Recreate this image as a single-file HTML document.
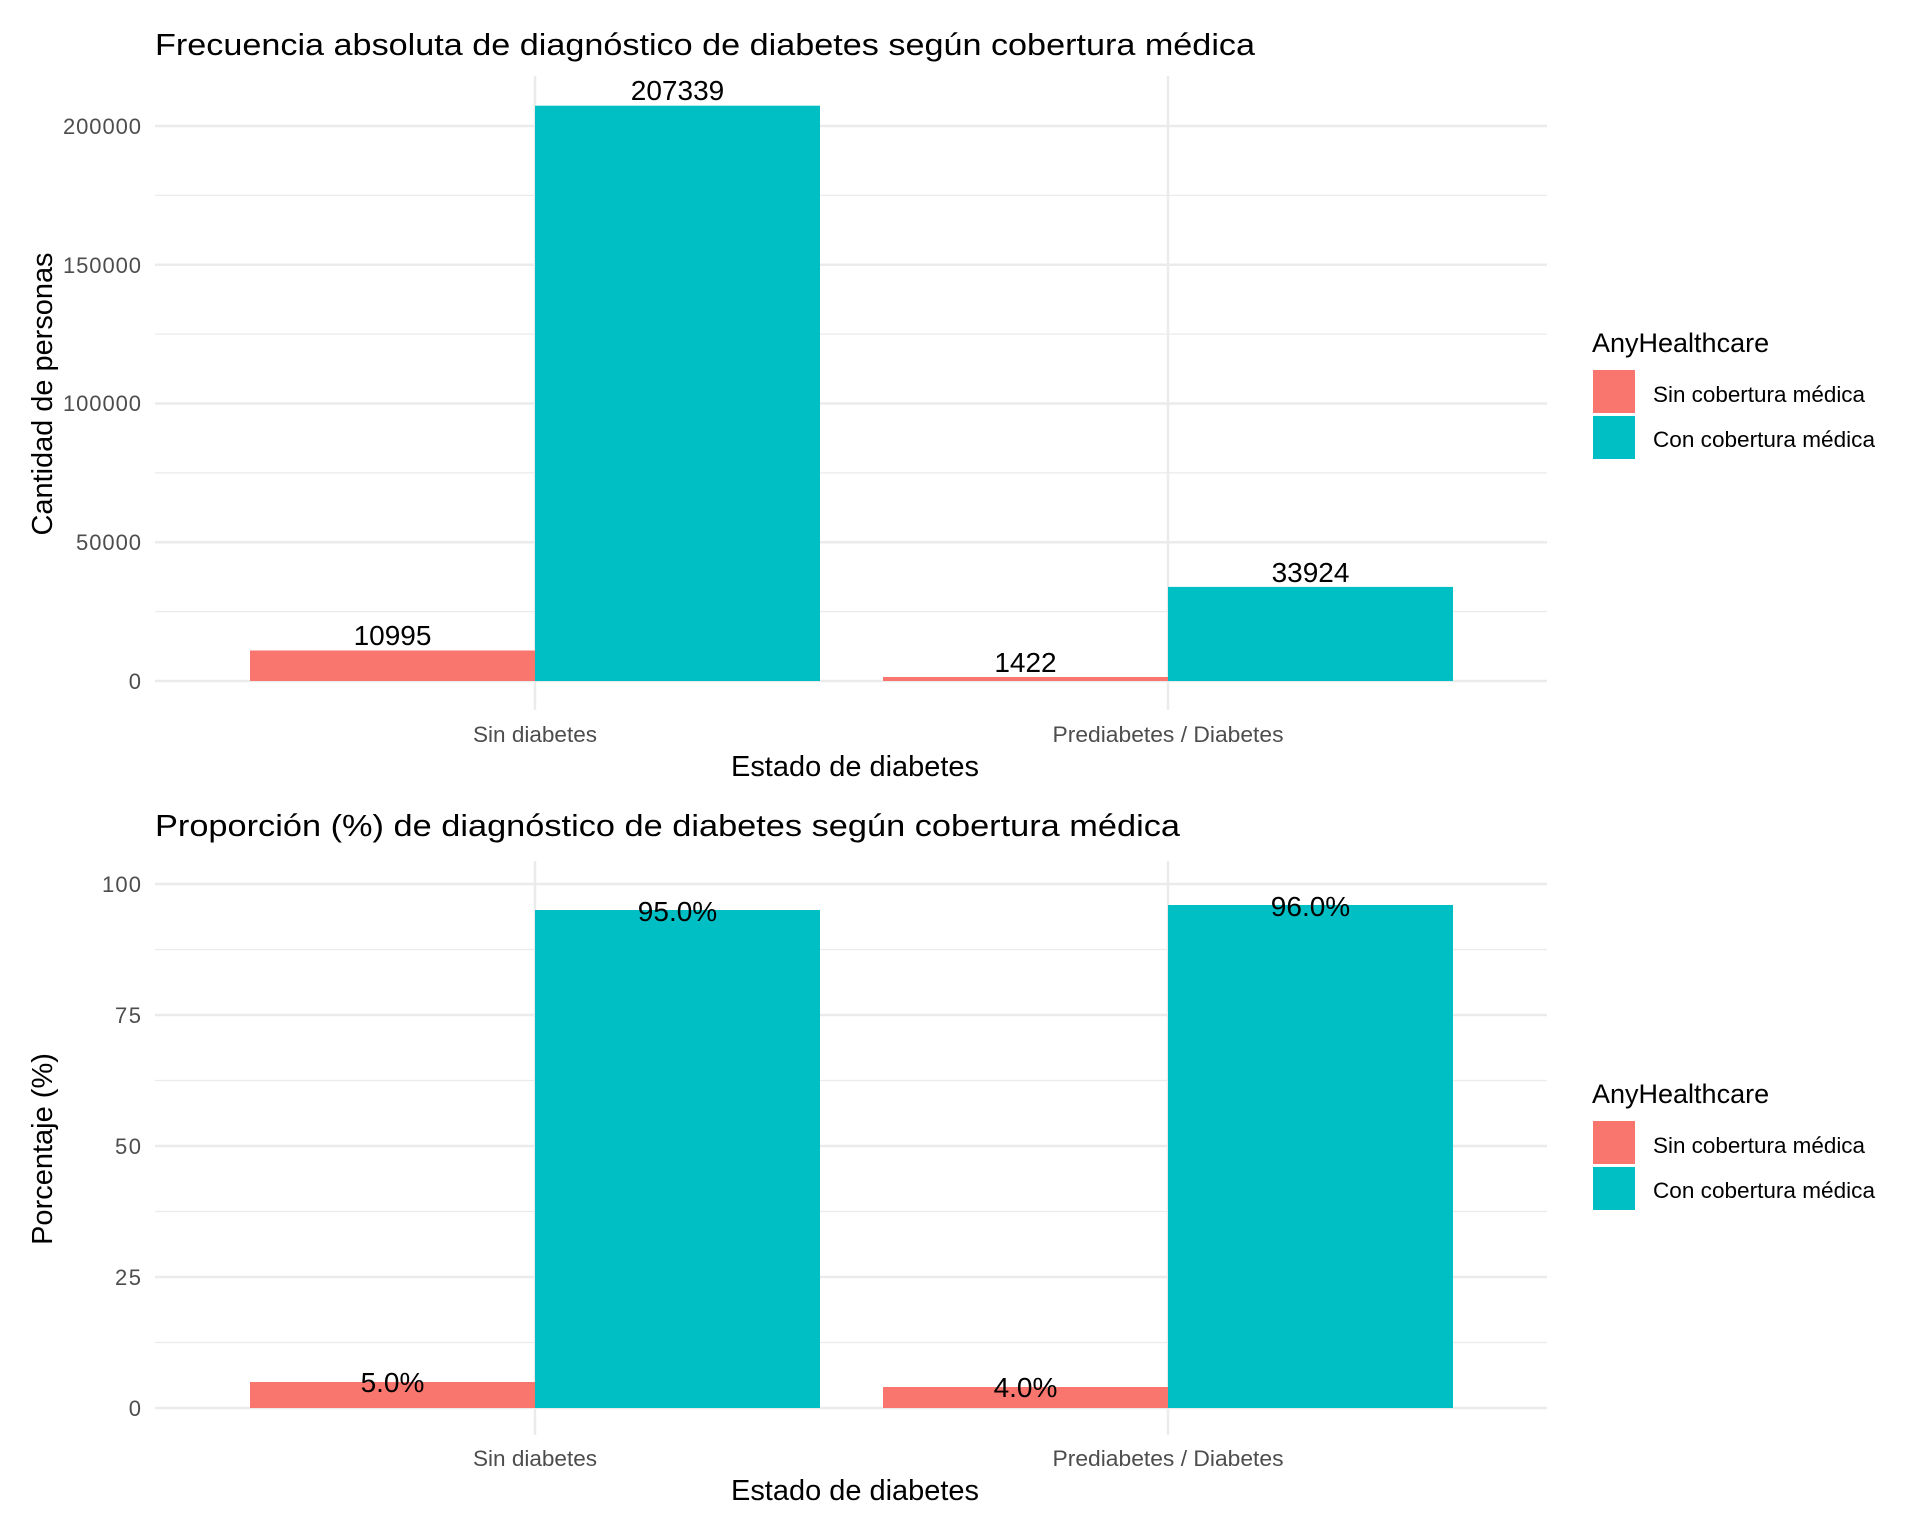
<!DOCTYPE html>
<html><head><meta charset="utf-8"><style>html,body{margin:0;padding:0;background:#fff}svg{display:block}</style></head>
<body>
<svg width="1920" height="1536" viewBox="0 0 1920 1536" font-family="Liberation Sans, Arial, sans-serif">
<rect width="1920" height="1536" fill="#fff"/>
<!-- TOP PANEL -->
<g stroke="#ebebeb">
<g stroke-width="1.3">
<line x1="155" x2="1547" y1="611.6" y2="611.6"/><line x1="155" x2="1547" y1="472.9" y2="472.9"/><line x1="155" x2="1547" y1="334.1" y2="334.1"/><line x1="155" x2="1547" y1="195.4" y2="195.4"/>
</g>
<g stroke-width="2.5">
<line x1="155" x2="1547" y1="681" y2="681"/><line x1="155" x2="1547" y1="542.3" y2="542.3"/><line x1="155" x2="1547" y1="403.5" y2="403.5"/><line x1="155" x2="1547" y1="264.8" y2="264.8"/><line x1="155" x2="1547" y1="126" y2="126"/>
<line x1="535" x2="535" y1="76" y2="710"/><line x1="1168" x2="1168" y1="76" y2="710"/>
</g></g>
<rect x="250" y="650.5" width="285" height="30.5" fill="#F8766D"/>
<rect x="535" y="105.7" width="285" height="575.3" fill="#00BFC4"/>
<rect x="883" y="677" width="285" height="4" fill="#F8766D"/>
<rect x="1168" y="586.9" width="285" height="94.1" fill="#00BFC4"/>
<g font-size="28" text-anchor="middle" fill="#000">
<text x="392.5" y="645">10995</text><text x="677.5" y="100">207339</text><text x="1025.5" y="672">1422</text><text x="1310.5" y="582">33924</text>
</g>
<g font-size="22" fill="#4d4d4d" text-anchor="end" lengthAdjust="spacingAndGlyphs">
<text x="141" y="689" textLength="13">0</text><text x="141" y="550" textLength="65">50000</text><text x="141" y="411" textLength="78">100000</text><text x="141" y="273" textLength="78">150000</text><text x="141" y="134" textLength="78">200000</text>
</g>
<g font-size="22.5" fill="#4d4d4d" text-anchor="middle">
<text x="535" y="742" textLength="124" lengthAdjust="spacingAndGlyphs">Sin diabetes</text><text x="1168" y="742" textLength="231" lengthAdjust="spacingAndGlyphs">Prediabetes / Diabetes</text>
</g>
<text x="855" y="776" font-size="29" text-anchor="middle" textLength="248" lengthAdjust="spacingAndGlyphs">Estado de diabetes</text>
<text transform="translate(52,394) rotate(-90)" font-size="29" text-anchor="middle" textLength="283" lengthAdjust="spacingAndGlyphs">Cantidad de personas</text>
<text x="155" y="55" font-size="31" textLength="1100" lengthAdjust="spacingAndGlyphs">Frecuencia absoluta de diagnóstico de diabetes según cobertura médica</text>
<text x="1592" y="352" font-size="27">AnyHealthcare</text>
<rect x="1593" y="370" width="42" height="43" fill="#F8766D"/>
<rect x="1593" y="416" width="42" height="43" fill="#00BFC4"/>
<text x="1653" y="402" font-size="22" textLength="212" lengthAdjust="spacingAndGlyphs">Sin cobertura médica</text>
<text x="1653" y="447" font-size="22" textLength="222" lengthAdjust="spacingAndGlyphs">Con cobertura médica</text>

<!-- BOTTOM PANEL -->
<g stroke="#ebebeb">
<g stroke-width="1.3">
<line x1="155" x2="1547" y1="1342.5" y2="1342.5"/><line x1="155" x2="1547" y1="1211.5" y2="1211.5"/><line x1="155" x2="1547" y1="1080.5" y2="1080.5"/><line x1="155" x2="1547" y1="949.5" y2="949.5"/>
</g>
<g stroke-width="2.5">
<line x1="155" x2="1547" y1="1408" y2="1408"/><line x1="155" x2="1547" y1="1277" y2="1277"/><line x1="155" x2="1547" y1="1146" y2="1146"/><line x1="155" x2="1547" y1="1015" y2="1015"/><line x1="155" x2="1547" y1="884" y2="884"/>
<line x1="535" x2="535" y1="861" y2="1435"/><line x1="1168" x2="1168" y1="861" y2="1435"/>
</g></g>
<rect x="250" y="1382" width="285" height="26" fill="#F8766D"/>
<rect x="535" y="910" width="285" height="498" fill="#00BFC4"/>
<rect x="883" y="1387" width="285" height="21" fill="#F8766D"/>
<rect x="1168" y="905" width="285" height="503" fill="#00BFC4"/>
<g font-size="28" text-anchor="middle" fill="#000">
<text x="392.5" y="1392">5.0%</text><text x="677.5" y="921">95.0%</text><text x="1025.5" y="1397">4.0%</text><text x="1310.5" y="916">96.0%</text>
</g>
<g font-size="22" fill="#4d4d4d" text-anchor="end" lengthAdjust="spacingAndGlyphs">
<text x="141" y="1416" textLength="13">0</text><text x="141" y="1285" textLength="26">25</text><text x="141" y="1154" textLength="26">50</text><text x="141" y="1023" textLength="26">75</text><text x="141" y="892" textLength="39">100</text>
</g>
<g font-size="22.5" fill="#4d4d4d" text-anchor="middle">
<text x="535" y="1466" textLength="124" lengthAdjust="spacingAndGlyphs">Sin diabetes</text><text x="1168" y="1466" textLength="231" lengthAdjust="spacingAndGlyphs">Prediabetes / Diabetes</text>
</g>
<text x="855" y="1500" font-size="29" text-anchor="middle" textLength="248" lengthAdjust="spacingAndGlyphs">Estado de diabetes</text>
<text transform="translate(52,1149) rotate(-90)" font-size="29" text-anchor="middle">Porcentaje (%)</text>
<text x="155" y="836" font-size="31" textLength="1025" lengthAdjust="spacingAndGlyphs">Proporción (%) de diagnóstico de diabetes según cobertura médica</text>
<text x="1592" y="1103" font-size="27">AnyHealthcare</text>
<rect x="1593" y="1121" width="42" height="43" fill="#F8766D"/>
<rect x="1593" y="1167" width="42" height="43" fill="#00BFC4"/>
<text x="1653" y="1153" font-size="22" textLength="212" lengthAdjust="spacingAndGlyphs">Sin cobertura médica</text>
<text x="1653" y="1198" font-size="22" textLength="222" lengthAdjust="spacingAndGlyphs">Con cobertura médica</text>
</svg>
</body></html>
